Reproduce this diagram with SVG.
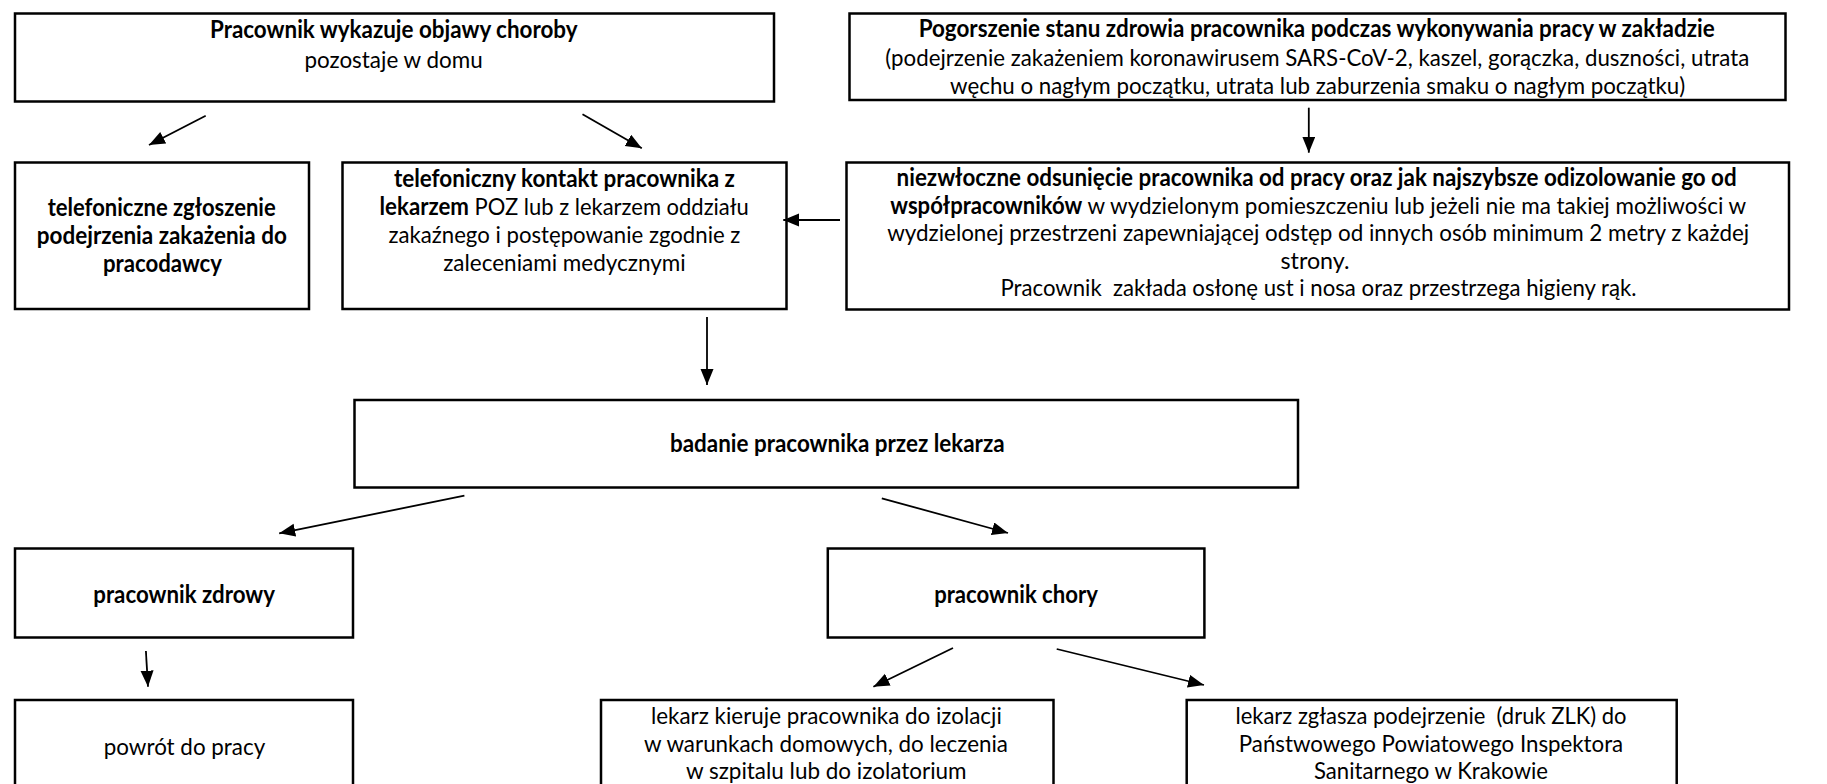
<svg xmlns="http://www.w3.org/2000/svg" width="1827" height="784" viewBox="0 0 1827 784">
<style>
  .box { fill: #ffffff; stroke: #000000; stroke-width: 2.5; }
  .t { font-family: Lato, "Liberation Sans", sans-serif; font-size: 24px; fill: #000000; }
  .b { font-weight: bold; }
  .arr { stroke: #000000; stroke-width: 1.8; fill: none; marker-end: url(#ah); }
</style>
<defs>
  <marker id="ah" markerUnits="userSpaceOnUse" markerWidth="18" markerHeight="14" refX="16" refY="6.5" orient="auto">
    <path d="M0,0 L16,6.5 L0,13 Z" fill="#000000"/>
  </marker>
</defs>
<rect x="0" y="0" width="1827" height="784" fill="#ffffff"/>

<g id="n-objawy">
  <rect class="box" x="15" y="13.5" width="759" height="88"/>
  <text class="t b" x="210" y="37.5" textLength="367.5" lengthAdjust="spacingAndGlyphs">Pracownik wykazuje objawy choroby</text>
  <text class="t" x="304.4" y="67.5" textLength="178.3" lengthAdjust="spacingAndGlyphs">pozostaje w domu</text>
</g>

<g id="n-pogorszenie">
  <rect class="box" x="849.5" y="13.5" width="936" height="86.5"/>
  <text class="t b" x="918.7" y="36.5" textLength="796" lengthAdjust="spacingAndGlyphs">Pogorszenie stanu zdrowia pracownika podczas wykonywania pracy w zakładzie</text>
  <text class="t" x="885.3" y="66" textLength="864" lengthAdjust="spacingAndGlyphs">(podejrzenie zakażeniem koronawirusem SARS-CoV-2, kaszel, gorączka, duszności, utrata</text>
  <text class="t" x="950.1" y="94" textLength="735" lengthAdjust="spacingAndGlyphs">węchu o nagłym początku, utrata lub zaburzenia smaku o nagłym początku)</text>
</g>

<g id="n-zgloszenie-pracodawcy">
  <rect class="box" x="15" y="162.5" width="294" height="146.5"/>
  <text class="t b" x="47.7" y="215.5" textLength="228" lengthAdjust="spacingAndGlyphs">telefoniczne zgłoszenie</text>
  <text class="t b" x="36.8" y="243.5" textLength="250" lengthAdjust="spacingAndGlyphs">podejrzenia zakażenia do</text>
  <text class="t b" x="103" y="271.5" textLength="119" lengthAdjust="spacingAndGlyphs">pracodawcy</text>
</g>

<g id="n-kontakt">
  <rect class="box" x="342.5" y="162.5" width="444" height="146.5"/>
  <text class="t b" x="393.9" y="187" textLength="341" lengthAdjust="spacingAndGlyphs">telefoniczny kontakt pracownika z</text>
  <text class="t b" x="379.6" y="215" textLength="89.4" lengthAdjust="spacingAndGlyphs">lekarzem</text>
  <text class="t" x="469" y="215" textLength="279.8" lengthAdjust="spacingAndGlyphs" xml:space="preserve"> POZ lub z lekarzem oddziału</text>
  <text class="t" x="388.4" y="243" textLength="352" lengthAdjust="spacingAndGlyphs">zakaźnego i postępowanie zgodnie z</text>
  <text class="t" x="443.2" y="271" textLength="242.5" lengthAdjust="spacingAndGlyphs">zaleceniami medycznymi</text>
</g>

<g id="n-odsuniecie">
  <rect class="box" x="846.5" y="162.5" width="942.5" height="147"/>
  <text class="t b" x="896.6" y="186" textLength="840" lengthAdjust="spacingAndGlyphs">niezwłoczne odsunięcie pracownika od pracy oraz jak najszybsze odizolowanie go od</text>
  <text class="t b" x="890.3" y="213.5" textLength="192" lengthAdjust="spacingAndGlyphs">współpracowników</text>
  <text class="t" x="1082.3" y="213.5" textLength="663.9" lengthAdjust="spacingAndGlyphs" xml:space="preserve"> w wydzielonym pomieszczeniu lub jeżeli nie ma takiej możliwości w</text>
  <text class="t" x="887.2" y="241" textLength="862" lengthAdjust="spacingAndGlyphs">wydzielonej przestrzeni zapewniającej odstęp od innych osób minimum 2 metry z każdej</text>
  <text class="t" x="1280.5" y="268.5" textLength="69" lengthAdjust="spacingAndGlyphs">strony.</text>
  <text class="t" x="1000.5" y="296" textLength="636" lengthAdjust="spacingAndGlyphs" xml:space="preserve">Pracownik  zakłada osłonę ust i nosa oraz przestrzega higieny rąk.</text>
</g>

<g id="n-badanie">
  <rect class="box" x="354.5" y="400" width="943.5" height="87.5"/>
  <text class="t b" x="670" y="452" textLength="334.6" lengthAdjust="spacingAndGlyphs">badanie pracownika przez lekarza</text>
</g>

<g id="n-zdrowy">
  <rect class="box" x="15" y="548.5" width="338" height="89"/>
  <text class="t b" x="93.3" y="603" textLength="181.7" lengthAdjust="spacingAndGlyphs">pracownik zdrowy</text>
</g>

<g id="n-chory">
  <rect class="box" x="827.8" y="548.5" width="376.6" height="89"/>
  <text class="t b" x="934.2" y="603" textLength="163.7" lengthAdjust="spacingAndGlyphs">pracownik chory</text>
</g>

<g id="n-powrot">
  <rect class="box" x="15" y="700" width="338" height="100"/>
  <text class="t" x="103.8" y="755" textLength="161.4" lengthAdjust="spacingAndGlyphs">powrót do pracy</text>
</g>

<g id="n-izolacja">
  <rect class="box" x="601" y="700" width="452.5" height="100"/>
  <text class="t" x="651" y="723.5" textLength="350.8" lengthAdjust="spacingAndGlyphs">lekarz kieruje pracownika do izolacji</text>
  <text class="t" x="644" y="751.5" textLength="364" lengthAdjust="spacingAndGlyphs">w warunkach domowych, do leczenia</text>
  <text class="t" x="686" y="779" textLength="280.6" lengthAdjust="spacingAndGlyphs">w szpitalu lub do izolatorium</text>
</g>

<g id="n-zglasza">
  <rect class="box" x="1186.7" y="700" width="490" height="100"/>
  <text class="t" x="1235.5" y="723.5" textLength="391" lengthAdjust="spacingAndGlyphs" xml:space="preserve">lekarz zgłasza podejrzenie  (druk ZLK) do</text>
  <text class="t" x="1238.8" y="751.5" textLength="384.4" lengthAdjust="spacingAndGlyphs">Państwowego Powiatowego Inspektora</text>
  <text class="t" x="1314" y="779" textLength="234" lengthAdjust="spacingAndGlyphs">Sanitarnego w Krakowie</text>
</g>

<g id="connectors">
  <line class="arr" x1="205.7" y1="115.7" x2="149" y2="145"/>
  <line class="arr" x1="582.5" y1="114.3" x2="641.8" y2="148.3"/>
  <line class="arr" x1="1308.8" y1="107.7" x2="1308.8" y2="152.7"/>
  <line class="arr" x1="840" y1="220" x2="783.3" y2="220"/>
  <line class="arr" x1="707" y1="317" x2="707" y2="385"/>
  <line class="arr" x1="464.4" y1="495.7" x2="279.2" y2="533.3"/>
  <line class="arr" x1="881.8" y1="498.3" x2="1008" y2="533"/>
  <line class="arr" x1="145.9" y1="651" x2="148" y2="686.7"/>
  <line class="arr" x1="953" y1="648" x2="873.4" y2="686.7"/>
  <line class="arr" x1="1056.7" y1="649" x2="1204" y2="685"/>
</g>
</svg>
